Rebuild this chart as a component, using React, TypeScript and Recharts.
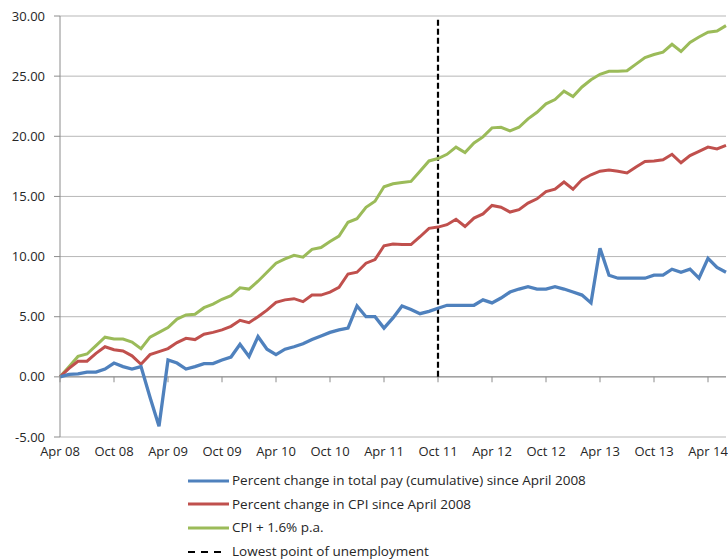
import { CartesianGrid, Legend, Line, LineChart, ReferenceLine, XAxis, YAxis } from 'recharts';

const months = [
    'Apr 08', 'May 08', 'Jun 08', 'Jul 08', 'Aug 08', 'Sep 08', 'Oct 08', 'Nov 08', 'Dec 08',
    'Jan 09', 'Feb 09', 'Mar 09', 'Apr 09', 'May 09', 'Jun 09', 'Jul 09', 'Aug 09', 'Sep 09', 'Oct 09', 'Nov 09', 'Dec 09',
    'Jan 10', 'Feb 10', 'Mar 10', 'Apr 10', 'May 10', 'Jun 10', 'Jul 10', 'Aug 10', 'Sep 10', 'Oct 10', 'Nov 10', 'Dec 10',
    'Jan 11', 'Feb 11', 'Mar 11', 'Apr 11', 'May 11', 'Jun 11', 'Jul 11', 'Aug 11', 'Sep 11', 'Oct 11', 'Nov 11', 'Dec 11',
    'Jan 12', 'Feb 12', 'Mar 12', 'Apr 12', 'May 12', 'Jun 12', 'Jul 12', 'Aug 12', 'Sep 12', 'Oct 12', 'Nov 12', 'Dec 12',
    'Jan 13', 'Feb 13', 'Mar 13', 'Apr 13', 'May 13', 'Jun 13', 'Jul 13', 'Aug 13', 'Sep 13', 'Oct 13', 'Nov 13', 'Dec 13',
    'Jan 14', 'Feb 14', 'Mar 14', 'Apr 14', 'May 14', 'Jun 14',
];

// percent change in total pay (cumulative)
const pay = [
    0, 0.2, 0.25, 0.4, 0.4, 0.65, 1.15, 0.85, 0.65,
    0.85, -1.7, -4.1, 1.4, 1.15, 0.65, 0.85, 1.1, 1.1, 1.4, 1.65, 2.7,
    1.7, 3.35, 2.3, 1.85, 2.3, 2.5, 2.75, 3.1, 3.4, 3.7, 3.9, 4.05,
    5.9, 5.0, 5.0, 4.05, 4.9, 5.9, 5.6, 5.25, 5.45, 5.7, 5.95, 5.95,
    5.95, 5.95, 6.4, 6.15, 6.55, 7.05, 7.3, 7.5, 7.3, 7.3, 7.5, 7.3,
    7.05, 6.8, 6.15, 10.7, 8.45, 8.2, 8.2, 8.2, 8.2, 8.45, 8.45, 8.95,
    8.7, 8.95, 8.2, 9.85, 9.1, 8.7,
];

// percent change in CPI
const cpi = [
    0, 0.7, 1.3, 1.3, 1.95, 2.5, 2.25, 2.15, 1.75,
    1.05, 1.85, 2.1, 2.35, 2.85, 3.2, 3.1, 3.55, 3.7, 3.9, 4.2, 4.7,
    4.5, 5.0, 5.55, 6.2, 6.4, 6.5, 6.25, 6.8, 6.8, 7.05, 7.45, 8.55,
    8.7, 9.45, 9.75, 10.9, 11.05, 11.0, 11.0, 11.65, 12.35, 12.45, 12.65, 13.1,
    12.5, 13.2, 13.55, 14.25, 14.1, 13.7, 13.9, 14.45, 14.8, 15.4, 15.6, 16.2,
    15.6, 16.4, 16.8, 17.1, 17.2, 17.1, 16.95, 17.45, 17.9, 17.95, 18.05, 18.5,
    17.8, 18.4, 18.75, 19.1, 18.95, 19.25,
];

// CPI + 1.6% p.a.
const cpiPlus = [
    0, 0.85, 1.7, 1.9, 2.6, 3.3, 3.15, 3.15, 2.9,
    2.35, 3.3, 3.7, 4.1, 4.8, 5.15, 5.2, 5.75, 6.05, 6.45, 6.75, 7.4,
    7.3, 7.95, 8.7, 9.45, 9.8, 10.1, 9.95, 10.6, 10.75, 11.25, 11.7, 12.85,
    13.15, 14.1, 14.6, 15.8, 16.05, 16.15, 16.25, 17.1, 17.95, 18.15, 18.5, 19.1,
    18.65, 19.45, 19.95, 20.7, 20.75, 20.45, 20.75, 21.45, 22.0, 22.7, 23.05, 23.75,
    23.3, 24.1, 24.7, 25.15, 25.4, 25.4, 25.45, 26.0, 26.55, 26.8, 27.0, 27.65,
    27.05, 27.8, 28.25, 28.65, 28.75, 29.2,
];

const xTicks = ['Apr 08', 'Oct 08', 'Apr 09', 'Oct 09', 'Apr 10', 'Oct 10', 'Apr 11', 'Oct 11', 'Apr 12', 'Oct 12', 'Apr 13', 'Oct 13', 'Apr 14'];
const yTicks = [-5, 0, 5, 10, 15, 20, 25, 30];

const lowestUnemployment = 'Oct 11';
const lowestTop = 29.7;

const legendItems = [
    { name: 'Percent change in total pay (cumulative) since April 2008', color: '#4F81BD', dash: '' },
    { name: 'Percent change in CPI since April 2008', color: '#C0504D', dash: '' },
    { name: 'CPI + 1.6% p.a.', color: '#9BBB59', dash: '' },
    { name: 'Lowest point of unemployment', color: '#000000', dash: '7 6' },
];

const data = months.map((month, i) => ({ month, pay: pay[i], cpi: cpi[i], cpiPlus: cpiPlus[i] }));

const font = '"Open Sans", sans-serif';

function ChartLegend() {
    return (
        <div style={{ height: 91, paddingLeft: 188, fontFamily: font, fontSize: 13.5, color: '#262626' }}>
            {legendItems.map((item) => (
                <div key={item.name} style={{ height: 23.6, display: 'flex', alignItems: 'center' }}>
                    <svg width={44} height={6} style={{ flex: 'none' }}>
                        <line x1={0} y1={3} x2={item.dash ? 34 : 41} y2={3} stroke={item.color} strokeWidth={item.dash ? 2 : 3} strokeDasharray={item.dash || undefined} />
                    </svg>
                    <span style={{ whiteSpace: 'nowrap', lineHeight: '15px' }}>{item.name}</span>
                </div>
            ))}
        </div>
    );
}

export default function App() {
    return (
        <div style={{ position: 'absolute', left: 0, top: 0, width: 728, height: 560, overflow: 'hidden', background: '#fff' }}>
            <LineChart width={728} height={560} data={data} margin={{ top: 16, right: 2, left: 0, bottom: 0 }}>
                <CartesianGrid stroke="#B7B7B7" vertical={false} />
                <XAxis
                    dataKey="month"
                    interval={5}
                    axisLine={false}
                    tickLine={false}
                    tickMargin={4}
                    height={32}
                    tick={{ fontSize: 13, fill: '#262626', fontFamily: font }}
                />
                <YAxis
                    domain={[-5, 30]}
                    ticks={yTicks}
                    interval={0}
                    width={60}
                    tickFormatter={(v: number) => v.toFixed(2)}
                    axisLine={{ stroke: '#8C8C8C' }}
                    tickLine={{ stroke: '#8C8C8C' }}
                    tickSize={6}
                    tickMargin={9}
                    tick={{ fontSize: 13, fill: '#262626', fontFamily: font }}
                />
                <ReferenceLine y={0} stroke="#8C8C8C" />
                {xTicks.map((t) => (
                    <ReferenceLine key={t} segment={[{ x: t, y: 0 }, { x: t, y: -0.45 }]} stroke="#8C8C8C" />
                ))}
                <ReferenceLine
                    segment={[{ x: lowestUnemployment, y: 0 }, { x: lowestUnemployment, y: lowestTop }]}
                    stroke="#000"
                    strokeWidth={2.2}
                    strokeDasharray="6 3"
                />
                <Line dataKey="cpiPlus" stroke="#9BBB59" strokeWidth={3} dot={false} isAnimationActive={false} />
                <Line dataKey="cpi" stroke="#C0504D" strokeWidth={3} dot={false} isAnimationActive={false} />
                <Line dataKey="pay" stroke="#4F81BD" strokeWidth={3.3} dot={false} isAnimationActive={false} />
                <Legend verticalAlign="bottom" content={() => <ChartLegend />} />
            </LineChart>
        </div>
    );
}
